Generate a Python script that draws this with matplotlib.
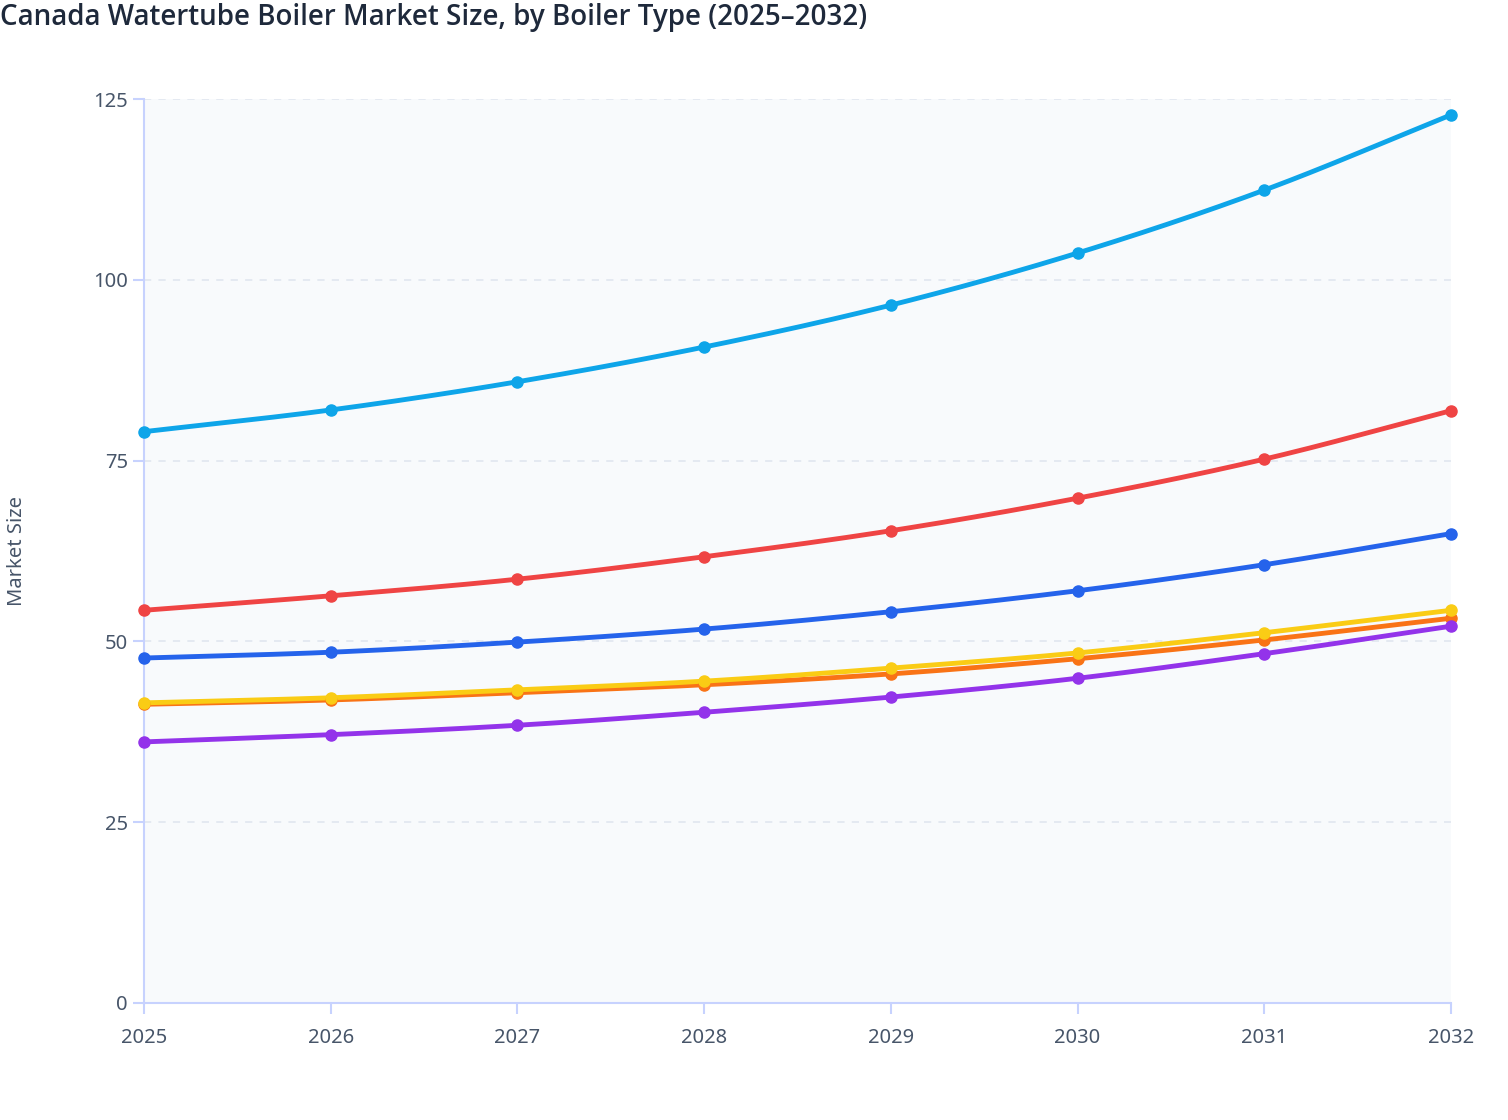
import matplotlib
matplotlib.use("Agg")
import matplotlib.pyplot as plt
import numpy as np

plt.rcParams['font.family'] = ['Noto Sans', 'DejaVu Sans']

years = [2025, 2026, 2027, 2028, 2029, 2030, 2031, 2032]

# values, one list per boiler type line
cyan_vals = [79.0, 82.0, 85.9, 90.7, 96.5, 103.7, 112.4, 122.8]
red_vals = [54.3, 56.3, 58.6, 61.7, 65.3, 69.8, 75.2, 81.9]
blue_vals = [47.7, 48.5, 49.9, 51.7, 54.1, 57.0, 60.6, 64.9]
orange_vals = [41.3, 41.9, 42.9, 44.0, 45.5, 47.6, 50.2, 53.2]
yellow_vals = [41.5, 42.2, 43.3, 44.5, 46.3, 48.4, 51.2, 54.3]
purple_vals = [36.1, 37.1, 38.4, 40.2, 42.3, 44.9, 48.3, 52.1]

series = [
    (cyan_vals, '#0ea5e9'),
    (red_vals, '#ef4444'),
    (blue_vals, '#2563eb'),
    (orange_vals, '#f97316'),
    (yellow_vals, '#facc15'),
    (purple_vals, '#9333ea'),
]


def smooth(x, y, n=30):
    # catmull-rom curve through the points, for drawing only
    x = np.asarray(x, float)
    y = np.asarray(y, float)
    px = np.concatenate([[2 * x[0] - x[1]], x, [2 * x[-1] - x[-2]]])
    py = np.concatenate([[2 * y[0] - y[1]], y, [2 * y[-1] - y[-2]]])
    xs, ys = [], []
    t = np.linspace(0, 1, n)
    for i in range(1, len(px) - 2):
        for p, out in ((px, xs), (py, ys)):
            p0, p1, p2, p3 = p[i - 1], p[i], p[i + 1], p[i + 2]
            out.extend(0.5 * ((2 * p1) + (-p0 + p2) * t
                              + (2 * p0 - 5 * p1 + 4 * p2 - p3) * t ** 2
                              + (-p0 + 3 * p1 - 3 * p2 + p3) * t ** 3))
    return xs, ys


fig = plt.figure(figsize=(15.08, 11.2), dpi=100)
ax = fig.add_axes([0.0955, 0.1045, 0.8667, 0.8071])
ax.set_facecolor('#f8fafc')

for vals, col in series:
    sx, sy = smooth(years, vals)
    ax.plot(sx, sy, color=col, lw=3.5, solid_capstyle='round', zorder=3, clip_on=False)
    ax.plot(years, vals, 'o', color=col, ms=8, zorder=4, clip_on=False)

ax.set_xlim(2025, 2032)
ax.set_ylim(0, 125)
ax.set_xticks(years)
ax.set_yticks([0, 25, 50, 75, 100, 125])
ax.grid(axis='y', color='#e2e8f0', ls=(0, (4, 4)), lw=1.3)
ax.set_axisbelow(True)

for s in ['top', 'right']:
    ax.spines[s].set_visible(False)
for s in ['left', 'bottom']:
    ax.spines[s].set_color('#c7d2fe')
    ax.spines[s].set_linewidth(1.5)
ax.tick_params(colors='#c7d2fe', labelcolor='#475569', labelsize=14.5, length=8, width=1.5)
ax.tick_params(axis='x', pad=10)

fig.text(0.0, 0.984, 'Canada Watertube Boiler Market Size, by Boiler Type (2025\u20132032)',
         fontsize=20, fontweight='semibold', family=['Open Sans', 'Noto Sans', 'DejaVu Sans'],
         color='#1e293b', ha='left', va='center')
fig.text(0.011, 0.508, 'Market Size', rotation=90, fontsize=14.5, color='#475569',
         ha='center', va='center')

fig.savefig('out.png', dpi=100)
